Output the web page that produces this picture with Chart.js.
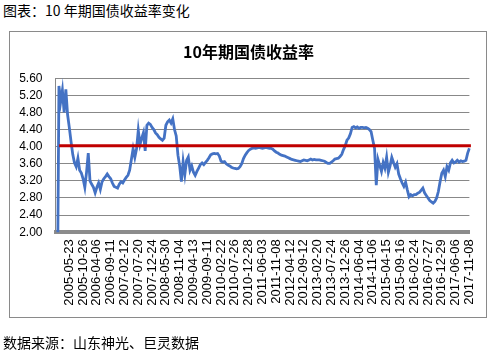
<!DOCTYPE html>
<html><head><meta charset="utf-8">
<script src="https://cdn.jsdelivr.net/npm/chart.js@4"></script>
<style>
html,body{margin:0;padding:0;background:#fff;width:492px;height:355px;overflow:hidden;}
#cap{position:absolute;left:3px;top:3px;font:14px/14px "Noto Sans CJK SC";color:#000;white-space:nowrap;}
#src{position:absolute;left:3px;top:335px;font:14px/14px "Noto Sans CJK SC";color:#000;white-space:nowrap;}
#box{position:absolute;left:9px;top:31px;width:476px;height:285px;border:1px solid #8a8a8a;}
#wrap{position:absolute;left:0;top:0;width:492px;height:355px;}
</style></head><body>
<div id="cap">图表：10 年期国债收益率变化</div>
<div id="box"></div>
<div id="wrap"><canvas id="c"></canvas></div>
<div id="src">数据来源：山东神光、巨灵数据</div>
<script>
const chartTitle = '10年期国债收益率';
const tickLabels = ['2005-05-23','2005-10-26','2006-04-06','2006-09-11','2007-02-12','2007-07-20','2007-12-24','2008-05-30','2008-11-04','2009-04-13','2009-09-11','2010-02-22','2010-07-26','2010-12-28','2011-06-03','2011-11-08','2012-04-12','2012-09-12','2013-02-20','2013-07-24','2013-12-26','2014-06-04','2014-11-06','2015-04-15','2015-09-16','2016-02-24','2016-07-27','2016-12-29','2017-06-06','2017-11-08'];
const yields = [
 null,0,5.42,5.05,5.32,4.80,5.34,4.75,4.45,4.12,
 3.82,3.62,3.53,3.73,3.45,3.38,3.25,3.05,3.40,3.85,
 3.20,3.12,3.05,2.92,3.05,3.15,3.00,3.18,3.25,3.30,
 3.36,3.30,3.25,3.15,3.07,3.05,3.03,3.12,3.18,3.15,
 3.22,3.28,3.33,3.45,3.70,3.95,3.75,3.95,4.38,4.05,
 4.20,4.33,3.90,4.50,4.55,4.52,4.45,4.40,4.32,4.28,
 4.22,4.18,4.15,4.20,4.50,4.58,4.62,4.55,4.65,4.40,
 4.25,3.80,3.55,3.18,3.65,3.35,3.68,3.76,3.45,3.55,
 3.40,3.33,3.42,3.50,3.58,3.62,3.58,3.63,3.68,3.74,
 3.81,3.83,3.84,3.83,3.84,3.78,3.66,3.64,3.65,3.60,
 3.57,3.55,3.52,3.50,3.49,3.48,3.49,3.53,3.60,3.72,
 3.80,3.86,3.91,3.94,3.96,3.97,3.96,3.97,3.98,3.97,
 3.96,3.97,3.98,3.97,3.96,3.96,3.94,3.90,3.87,3.85,
 3.82,3.80,3.79,3.78,3.76,3.74,3.72,3.70,3.69,3.68,
 3.67,3.66,3.65,3.67,3.69,3.68,3.67,3.69,3.71,3.69,
 3.70,3.69,3.69,3.69,3.68,3.67,3.66,3.63,3.61,3.61,
 3.64,3.67,3.71,3.72,3.73,3.77,3.82,3.93,4.02,4.15,
 4.20,4.30,4.45,4.47,4.44,4.46,4.43,4.45,4.45,4.44,
 4.45,4.43,4.40,4.35,4.15,3.96,3.10,3.70,3.56,3.42,
 3.63,3.50,3.75,3.40,3.55,3.75,3.63,3.52,3.60,3.36,
 3.25,3.15,3.07,3.17,2.99,2.83,2.88,2.85,2.88,2.88,
 2.91,2.93,2.98,3.03,2.92,2.86,2.80,2.74,2.71,2.68,
 2.72,2.80,2.95,3.18,3.38,3.45,3.30,3.53,3.45,3.62,
 3.68,3.62,3.64,3.68,3.64,3.67,3.65,3.66,3.68,3.85,
 3.96
];
const averageYield = [4.02];
const labelStart = 8, labelEvery = 8, averageStart = 3;
const yTicks = [2.0, 2.4, 2.8, 3.2, 3.6, 4.0, 4.4, 4.8, 5.2, 5.6];

const categories = yields.map((_, i) => (i >= labelStart && (i - labelStart) % labelEvery === 0) ? tickLabels[(i - labelStart) / labelEvery] : '');
const averageSeries = yields.map((_, i) => i >= averageStart ? averageYield[0] : null);

new Chart(document.getElementById('c'), {
  type: 'line',
  data: {
    labels: categories,
    datasets: [
      { label: '均值', data: averageSeries, borderColor: '#C00000', borderWidth: 3, pointRadius: 0, order: 0, borderCapStyle: 'square', clip: 6 },
      { label: '10年期国债收益率', data: yields, borderColor: '#4472C4', borderWidth: 2.8, pointRadius: 0, order: 1, tension: 0 }
    ]
  },
  options: {
    responsive: true, maintainAspectRatio: false, animation: false, devicePixelRatio: 1,
    layout: { padding: { left: 10, right: 5, top: 33, bottom: 0 } },
    plugins: {
      legend: { display: false },
      tooltip: { enabled: false },
      title: { display: true, text: chartTitle, color: '#000',
        font: { family: '"Noto Sans CJK SC"', size: 16, weight: 'bold' },
        padding: { top: 9, bottom: 17 } }
    },
    scales: {
      x: {
        grid: { display: false, drawTicks: false },
        border: { display: true, color: '#8c8c8c', width: 4 },
        ticks: { autoSkip: false, minRotation: 90, maxRotation: 90, padding: 7, color: '#000',
          font: { family: '"Liberation Sans"', size: 13 },
          callback: (v, i) => categories[i] },
        afterFit: s => { s.height = 355 - 232.2; }
      },
      y: {
        min: yTicks[0], max: yTicks[yTicks.length - 1],
        afterBuildTicks: s => { s.ticks = yTicks.map(v => ({ value: v })); },
        grid: { color: '#888', lineWidth: 1, drawTicks: false },
        border: { display: true, color: '#888', width: 1 },
        ticks: { autoSkip: false, padding: 13, color: '#000', font: { family: '"Liberation Sans"', size: 12 },
          callback: v => Number(v).toFixed(2) },
        afterFit: s => { s.width = 45.5; }
      },
      yRight: {
        position: 'right', display: true,
        min: yTicks[0], max: yTicks[yTicks.length - 1],
        grid: { display: false, drawTicks: false },
        border: { display: false },
        ticks: { display: false },
        afterFit: s => { s.width = 12.5; }
      }
    }
  }
});
</script>
</body></html>
